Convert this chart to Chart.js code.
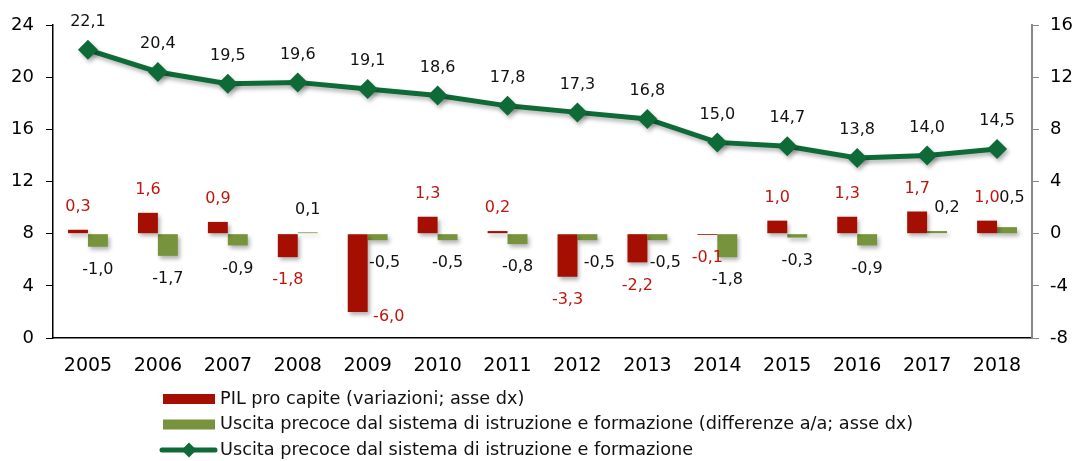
<!DOCTYPE html>
<html>
<head>
<meta charset="utf-8">
<script src="https://cdn.jsdelivr.net/npm/chart.js@4.4.0/dist/chart.umd.min.js"></script>
<style>
  html, body { margin: 0; padding: 0; background: #fff; }
  #wrap { width: 1079px; height: 461px; position: relative; }
</style>
</head>
<body>
<div id="wrap"><canvas id="c" width="1079" height="461"></canvas></div>
<script>
const categories = ['2005','2006','2007','2008','2009','2010','2011','2012','2013','2014','2015','2016','2017','2018'];
const pilProCapite = [0.3, 1.6, 0.9, -1.8, -6.0, 1.3, 0.2, -3.3, -2.2, -0.1, 1.0, 1.3, 1.7, 1.0];
const uscitaDiff = [-1.0, -1.7, -0.9, 0.1, -0.5, -0.5, -0.8, -0.5, -0.5, -1.8, -0.3, -0.9, 0.2, 0.5];
const uscitaPrecoce = [22.1, 20.4, 19.5, 19.6, 19.1, 18.6, 17.8, 17.3, 16.8, 15.0, 14.7, 13.8, 14.0, 14.5];
const leftTicks = { min: 0, max: 24, step: 4 };
const rightTicks = { min: -8, max: 16, step: 4 };
const seriesLabels = [
  'PIL pro capite (variazioni; asse dx)',
  'Uscita precoce dal sistema di istruzione e formazione (differenze a/a; asse dx)',
  'Uscita precoce dal sistema di istruzione e formazione'
];

const RED = '#A50F02';
const GREEN_BAR = '#77933C';
const GREEN_LINE = '#0E6A36';
const RED_TEXT = '#C0150C';
const AXIS_FONT = { family: '"DejaVu Sans", Verdana, sans-serif', size: 18 };
const X_FONT = { family: '"DejaVu Sans", Verdana, sans-serif', size: 19 };
const LABEL_FONT = '16px "DejaVu Sans", Verdana, sans-serif';

function fmt(v) { return v.toFixed(1).replace('.', ','); }

const shadowPlugin = {
  id: 'shadow',
  beforeDatasetDraw(chart) {
    const ctx = chart.ctx;
    ctx.save();
    ctx.shadowColor = 'rgba(0,0,0,0.3)';
    ctx.shadowBlur = 4;
    ctx.shadowOffsetX = 2;
    ctx.shadowOffsetY = 3;
  },
  afterDatasetDraw(chart) { chart.ctx.restore(); }
};

const valueLabels = {
  id: 'valueLabels',
  afterDatasetsDraw(chart, args, opts) {
    const ctx = chart.ctx;
    ctx.save();
    ctx.font = LABEL_FONT;
    ctx.textAlign = 'center';
    ctx.textBaseline = 'middle';
    chart.data.datasets.forEach((ds, di) => {
      const meta = chart.getDatasetMeta(di);
      const cfg = opts.sets[di];
      meta.data.forEach((el, i) => {
        const v = ds.data[i];
        const nudge = (cfg.nudge && cfg.nudge[i]) || [0, 0];
        let x = el.x + nudge[0];
        let y;
        if (ds.type === 'line') {
          y = el.y - cfg.offset;
        } else {
          y = v >= 0 ? el.y - cfg.offset : el.y + cfg.offset;
        }
        y += nudge[1];
        ctx.fillStyle = cfg.color;
        ctx.fillText(fmt(v), x, y);
      });
    });
    ctx.restore();
  }
};

const stackedLegend = {
  id: 'stackedLegend',
  afterDraw(chart, args, opts) {
    const ctx = chart.ctx;
    ctx.save();
    ctx.font = opts.font;
    ctx.textBaseline = 'middle';
    ctx.textAlign = 'left';
    chart.data.datasets.forEach((ds, i) => {
      const y = opts.top + i * opts.rowGap;
      const x0 = opts.left, x1 = opts.left + opts.symbolWidth;
      if (ds.type === 'line') {
        ctx.strokeStyle = ds.borderColor;
        ctx.lineWidth = 5;
        ctx.lineCap = 'round';
        ctx.beginPath(); ctx.moveTo(x0 - 1, y); ctx.lineTo(x1, y); ctx.stroke();
        const r = 7.5, cx = (x0 + x1) / 2;
        ctx.fillStyle = ds.pointBackgroundColor;
        ctx.beginPath();
        ctx.moveTo(cx, y - r); ctx.lineTo(cx + r, y); ctx.lineTo(cx, y + r); ctx.lineTo(cx - r, y);
        ctx.closePath(); ctx.fill();
      } else {
        ctx.fillStyle = ds.backgroundColor;
        ctx.fillRect(x0, y - 5, opts.symbolWidth, 10);
      }
      ctx.fillStyle = '#111';
      ctx.fillText(ds.label, x1 + 5, y);
    });
    ctx.restore();
  }
};

new Chart(document.getElementById('c'), {
  data: {
    labels: categories,
    datasets: [
      { type: 'bar', label: seriesLabels[0], data: pilProCapite, backgroundColor: RED, yAxisID: 'y1', order: 1,
        categoryPercentage: 0.57, barPercentage: 1.0 },
      { type: 'bar', label: seriesLabels[1], data: uscitaDiff, backgroundColor: GREEN_BAR, yAxisID: 'y1', order: 2,
        categoryPercentage: 0.57, barPercentage: 1.0 },
      { type: 'line', label: seriesLabels[2], data: uscitaPrecoce, borderColor: GREEN_LINE, borderWidth: 5,
        pointStyle: 'rectRot', pointRadius: 10, pointBackgroundColor: GREEN_LINE, pointBorderColor: GREEN_LINE,
        pointBorderWidth: 0, yAxisID: 'y', order: 0, tension: 0 }
    ]
  },
  options: {
    responsive: false,
    animation: false,
    events: [],
    layout: { padding: { left: 0, right: 0, top: 25, bottom: 86 } },
    plugins: {
      legend: { display: false },
      tooltip: { enabled: false },
      valueLabels: {
        sets: [
          { color: RED_TEXT, offset: 23, nudge: { 4: [31, -18] } },
          { color: '#111', offset: 23, nudge: { 4: [7, 0], 7: [12, 0], 8: [8, 0], 12: [10, 0], 13: [5, -6] } },
          { color: '#111', offset: 28 }
        ]
      },
      stackedLegend: { left: 163, top: 399, rowGap: 25.5, symbolWidth: 52,
        font: '17.7px "DejaVu Sans", Verdana, sans-serif' }
    },
    scales: {
      x: {
        grid: { display: false },
        border: { display: true, color: '#000', width: 1.5 },
        ticks: { color: '#000', font: X_FONT, padding: 9, maxRotation: 0 },
        afterFit(s) { s.height = 37; }
      },
      y: {
        position: 'left',
        min: leftTicks.min, max: leftTicks.max,
        grid: { drawOnChartArea: false, drawTicks: true, tickLength: 7, color: '#000' },
        border: { display: true, color: '#000', width: 1.5 },
        ticks: { stepSize: leftTicks.step, color: '#000', font: AXIS_FONT, padding: 12 },
        afterFit(s) { s.width = 53; }
      },
      y1: {
        position: 'right',
        min: rightTicks.min, max: rightTicks.max,
        grid: { drawOnChartArea: false, drawTicks: true, tickLength: 7, color: '#888' },
        border: { display: true, color: '#888', width: 2 },
        ticks: { stepSize: rightTicks.step, color: '#000', font: AXIS_FONT, padding: 11 },
        afterFit(s) { s.width = 47; }
      }
    }
  },
  plugins: [shadowPlugin, valueLabels, stackedLegend]
});
</script>
</body>
</html>
